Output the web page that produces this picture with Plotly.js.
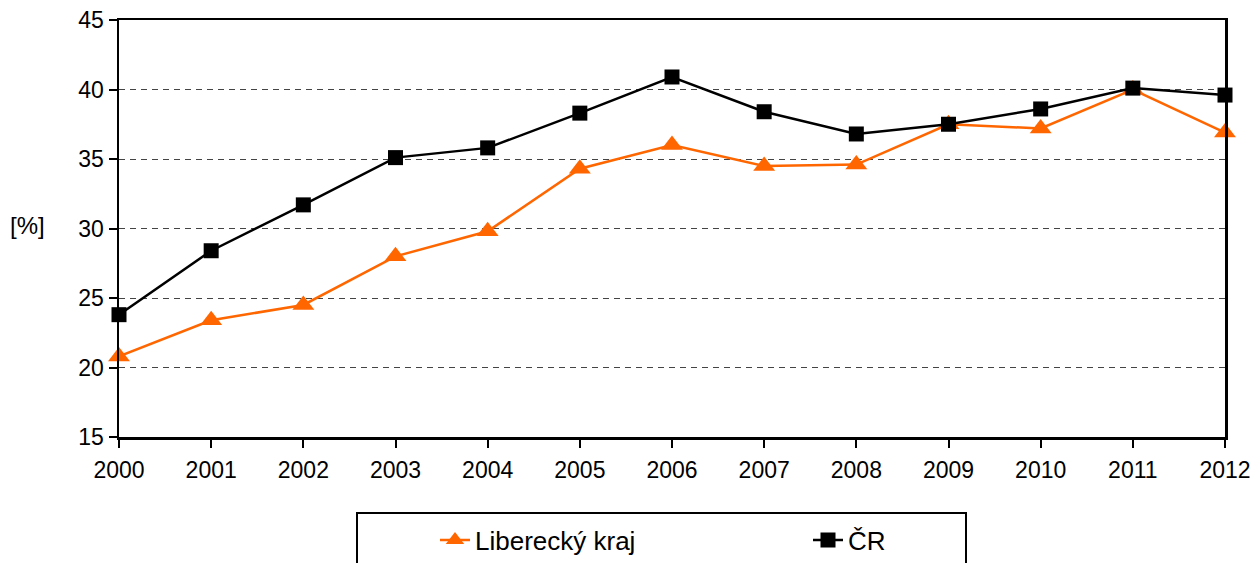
<!DOCTYPE html>
<html>
<head>
<meta charset="utf-8">
<script src="https://cdn.plot.ly/plotly-3.0.1.min.js"></script>
<style>html,body{margin:0;padding:0;background:#fff;}</style>
</head>
<body>
<div id="chart" style="width:1254px;height:563px;"></div>
<script>
const years = [2000, 2001, 2002, 2003, 2004, 2005, 2006, 2007, 2008, 2009, 2010, 2011, 2012];
const liberecky = [20.8, 23.4, 24.5, 28.0, 29.8, 34.3, 36.0, 34.5, 34.6, 37.5, 37.2, 40.0, 36.9];
const cr = [23.8, 28.4, 31.7, 35.1, 35.8, 38.3, 40.9, 38.4, 36.8, 37.5, 38.6, 40.1, 39.6];
const seriesNames = ['Liberecký kraj', 'ČR'];
const yTicks = [15, 20, 25, 30, 35, 40, 45];

const fam = 'Liberation Sans, Arial, sans-serif';
const tickFont = {family: fam, size: 23, color: '#000'};
const legFont = {family: fam, size: 26, color: '#000'};

const traces = [
  {
    x: years, y: liberecky, name: seriesNames[0], type: 'scatter', mode: 'lines+markers',
    line: {color: '#FF6600', width: 2.5},
    marker: {symbol: 'triangle-up', size: 19, color: '#FF6600'},
    cliponaxis: false
  },
  {
    x: years, y: cr, name: seriesNames[1], type: 'scatter', mode: 'lines+markers',
    line: {color: '#000000', width: 2.5},
    marker: {symbol: 'square', size: 15, color: '#000000'},
    cliponaxis: false
  }
];

const layout = {
  width: 1254, height: 563,
  margin: {l: 119, r: 29, t: 20, b: 126},
  paper_bgcolor: '#fff', plot_bgcolor: '#fff',
  font: tickFont,
  showlegend: true,
  legend: {
    orientation: 'h', xref: 'container', yref: 'container',
    x: 435 / 1254, xanchor: 'left', y: (563 - 540) / 563, yanchor: 'middle',
    entrywidth: 328, font: legFont, bgcolor: 'rgba(0,0,0,0)', borderwidth: 0,
    itemclick: false
  },
  xaxis: {
    range: [2000, 2012], tickvals: years, ticktext: years.map(String),
    showline: true, linecolor: '#000', linewidth: 2.5, mirror: true,
    ticks: 'outside', ticklen: 8, tickwidth: 2, tickcolor: '#000',
    ticklabelstandoff: 3,
    showgrid: false, zeroline: false, tickfont: tickFont, automargin: false
  },
  yaxis: {
    range: [15, 45], tickvals: yTicks,
    showline: true, linecolor: '#000', linewidth: 2.5, mirror: true,
    ticks: 'outside', ticklen: 8, tickwidth: 2, tickcolor: '#000',
    showgrid: true, gridcolor: '#444', griddash: '6px,5px', gridwidth: 1,
    zeroline: false, tickfont: tickFont, automargin: false
  },
  annotations: [{
    text: '[%]', xref: 'paper', yref: 'paper', x: (27 - 119) / 1106, y: (437 - 225) / 417,
    xanchor: 'center', yanchor: 'middle', showarrow: false,
    font: {family: fam, size: 24, color: '#000'}
  }],
  shapes: [{
    type: 'rect', xref: 'paper', yref: 'paper',
    x0: (357 - 119) / 1106, x1: (966 - 119) / 1106,
    y0: (437 - 513) / 417, y1: (437 - 580) / 417,
    line: {color: '#000', width: 2}, fillcolor: 'rgba(0,0,0,0)'
  }]
};

Plotly.newPlot('chart', traces, layout, {displayModeBar: false, staticPlot: true});
</script>
</body>
</html>
